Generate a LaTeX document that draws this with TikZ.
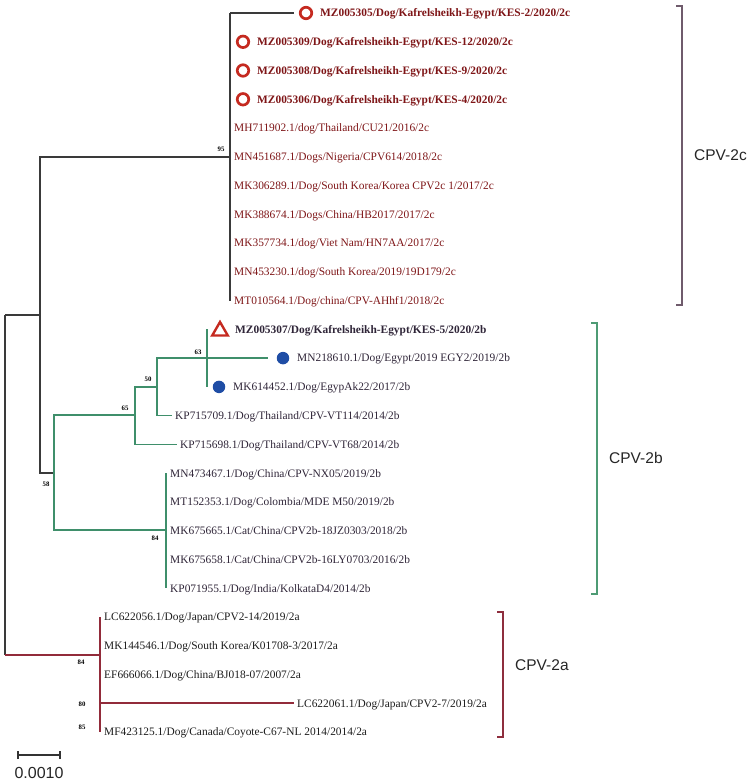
\documentclass[tikz,border=0pt]{standalone}
\usepackage{fontspec}
\setmainfont{Liberation Serif}
\newfontfamily\sansf{Liberation Sans}
\usetikzlibrary{shapes.geometric}
\definecolor{cline}{HTML}{3A3A3A}
\definecolor{gline}{HTML}{3F8F6B}
\definecolor{rline}{HTML}{922B3A}
\definecolor{ctext}{HTML}{7E1517}
\definecolor{btext}{HTML}{2F2538}
\definecolor{atext}{HTML}{1C1C1C}
\definecolor{markred}{HTML}{C52A20}
\definecolor{dotblue}{HTML}{1F4DA5}
\definecolor{brc}{HTML}{6F5B6C}
\definecolor{brb}{HTML}{4E9B74}
\definecolor{bra}{HTML}{8E2E3E}
\tikzset{
 leaf/.style={anchor=west, inner ysep=0pt, inner xsep=3pt, text height=7.6pt, text depth=0pt, font=\fontsize{11.4}{13}\selectfont},
 leafc/.style={leaf, text=ctext},
 leafcb/.style={leafc, font=\fontsize{11.4}{13}\selectfont\bfseries},
 leafb/.style={leaf, text=btext},
 leafbb/.style={leafb, font=\fontsize{11.4}{13}\selectfont\bfseries},
 leafa/.style={leaf, text=atext},
 boot/.style={font=\fontsize{6.8}{7}\selectfont\bfseries, inner sep=0pt},
 ring/.style={circle, draw=markred, line width=2.7pt, minimum size=11.5pt, inner sep=0pt},
 tri/.style={regular polygon, regular polygon sides=3, draw=markred, line width=2.4pt, minimum size=18pt, inner sep=0pt},
 bdot/.style={circle, fill=dotblue, minimum size=12.5pt, inner sep=0pt},
 tb/.style={draw=cline, line width=1.5pt},
 tg/.style={draw=gline, line width=1.5pt},
 tr/.style={draw=rline, line width=1.6pt},
 clade/.style={font=\sansf\fontsize{15.5}{18}\selectfont, text=black!85, anchor=west, inner sep=0pt},
}
\begin{document}
\begin{tikzpicture}[x=1pt,y=-1pt]
\useasboundingbox (0,0) rectangle (747,781);
% internal nodes
\coordinate (R) at (5,485);
\coordinate (A) at (40,315);
\coordinate (C2c) at (230,157);
\coordinate (B58) at (54,473);
\coordinate (N65) at (135,415);
\coordinate (N50) at (157,387);
\coordinate (N63) at (207,358.1);
\coordinate (N84) at (166,530);
\coordinate (C2a) at (100,655);
% markers
\node[ring] (c0) at (306,13) {};
\node[ring] (c1) at (243,41.8) {};
\node[ring] (c2) at (243,70.5) {};
\node[ring] (c3) at (243,99.3) {};
\node[tri] (t11) at (220,331) {};
\node[bdot] (d12) at (283,358.1) {};
\node[bdot] (d13) at (219,386.9) {};
% leaves 2c
\node[leafcb] (l0) at (317,13) {MZ005305/Dog/Kafrelsheikh-Egypt/KES-2/2020/2c};
\node[leafcb] (l1) at (254,41.8) {MZ005309/Dog/Kafrelsheikh-Egypt/KES-12/2020/2c};
\node[leafcb] (l2) at (254,70.5) {MZ005308/Dog/Kafrelsheikh-Egypt/KES-9/2020/2c};
\node[leafcb] (l3) at (254,99.3) {MZ005306/Dog/Kafrelsheikh-Egypt/KES-4/2020/2c};
\node[leafc] (l4) at (231,128.0) {MH711902.1/dog/Thailand/CU21/2016/2c};
\node[leafc] (l5) at (231,156.8) {MN451687.1/Dogs/Nigeria/CPV614/2018/2c};
\node[leafc] (l6) at (231,185.6) {MK306289.1/Dog/South Korea/Korea CPV2c 1/2017/2c};
\node[leafc] (l7) at (231,214.3) {MK388674.1/Dogs/China/HB2017/2017/2c};
\node[leafc] (l8) at (231,243.1) {MK357734.1/dog/Viet Nam/HN7AA/2017/2c};
\node[leafc] (l9) at (231,271.8) {MN453230.1/dog/South Korea/2019/19D179/2c};
\node[leafc] (l10) at (231,300.6) {MT010564.1/Dog/china/CPV-AHhf1/2018/2c};
% leaves 2b
\node[leafbb] (l11) at (232,329.4) {MZ005307/Dog/Kafrelsheikh-Egypt/KES-5/2020/2b};
\node[leafb] (l12) at (294,358.1) {MN218610.1/Dog/Egypt/2019 EGY2/2019/2b};
\node[leafb] (l13) at (230,386.9) {MK614452.1/Dog/EgypAk22/2017/2b};
\node[leafb] (l14) at (172,415.6) {KP715709.1/Dog/Thailand/CPV-VT114/2014/2b};
\node[leafb] (l15) at (177,444.4) {KP715698.1/Dog/Thailand/CPV-VT68/2014/2b};
\node[leafb] (l16) at (167,473.2) {MN473467.1/Dog/China/CPV-NX05/2019/2b};
\node[leafb] (l17) at (167,501.9) {MT152353.1/Dog/Colombia/MDE M50/2019/2b};
\node[leafb] (l18) at (167,530.7) {MK675665.1/Cat/China/CPV2b-18JZ0303/2018/2b};
\node[leafb] (l19) at (167,559.4) {MK675658.1/Cat/China/CPV2b-16LY0703/2016/2b};
\node[leafb] (l20) at (167,588.2) {KP071955.1/Dog/India/KolkataD4/2014/2b};
% leaves 2a
\node[leafa] (l21) at (101,617.0) {LC622056.1/Dog/Japan/CPV2-14/2019/2a};
\node[leafa] (l22) at (101,645.8) {MK144546.1/Dog/South Korea/K01708-3/2017/2a};
\node[leafa] (l23) at (101,674.5) {EF666066.1/Dog/China/BJ018-07/2007/2a};
\node[leafa] (l24) at (294,703.2) {LC622061.1/Dog/Japan/CPV2-7/2019/2a};
\node[leafa] (l25) at (101,732.0) {MF423125.1/Dog/Canada/Coyote-C67-NL 2014/2014/2a};
% branches: backbone
\draw[tb] (R |- A) -- (R |- C2a);
\draw[tb] (R |- A) -- (A);
\draw[tr] (R |- C2a) -- (C2a);
\draw[tb] (A) |- (C2c);
\draw[tb] (A) |- (B58);
% 2c clade
\draw[tb] (C2c |- c0) -- (C2c |- l10);
\draw[tb, shorten >=4.5pt] (C2c |- c0) -- (c0.west);
% 2b clade
\draw[tg] (B58) |- (N65);
\draw[tg] (B58) |- (N84);
\draw[tg] (N65) |- (N50);
\draw[tg] (N65) |- (l15.west);
\draw[tg] (N50) |- (N63);
\draw[tg] (N50) |- (l14.west);
\draw[tg] (N63 |- t11) ++(0,-2) -- (N63 |- d13);
\draw[tg, shorten >=9pt] (N63) -- (d12.west);
\draw[tg] (N84 |- l16) -- (N84 |- l20);
% 2a clade
\draw[tr] (C2a |- l21) -- (C2a |- l25);
\draw[tr] (C2a |- l24) -- (l24.west);
% bootstrap values
\node[boot] (b95) at (221,149) {95};
\node[boot] (b63) at (198,352) {63};
\node[boot] (b50) at (148,379) {50};
\node[boot] (b65) at (125,408) {65};
\node[boot] (b58) at (46,484) {58};
\node[boot] (b84) at (155,538) {84};
\node[boot] (b84a) at (81,662) {84};
\node[boot] (b80) at (82,704) {80};
\node[boot] (b85) at (82,727) {85};
% clade brackets
\draw[brc, line width=1.5pt] (676,6) -- (682,6) -- (682,305) -- (676,305);
\draw[brb, line width=1.5pt] (591,323) -- (597,323) -- (597,594) -- (591,594);
\draw[bra, line width=1.5pt] (497,612) -- (503,612) -- (503,737) -- (497,737);
\node[clade] (k2c) at (694,155) {CPV-2c};
\node[clade] (k2b) at (609,458) {CPV-2b};
\node[clade] (k2a) at (515,665) {CPV-2a};
% scale bar
\coordinate (s1) at (18,755);
\coordinate (s2) at (60,755);
\draw[black!80, line width=1.1pt] (s1) -- (s2);
\draw[black!80, line width=1.1pt] ([yshift=-4pt]s1) -- ([yshift=4pt]s1);
\draw[black!80, line width=1.1pt] ([yshift=-4pt]s2) -- ([yshift=4pt]s2);
\node[font=\sansf\fontsize{16}{18}\selectfont, text=black!85, inner sep=0pt] (sl) at (39,773) {0.0010};
\end{tikzpicture}
\end{document}
